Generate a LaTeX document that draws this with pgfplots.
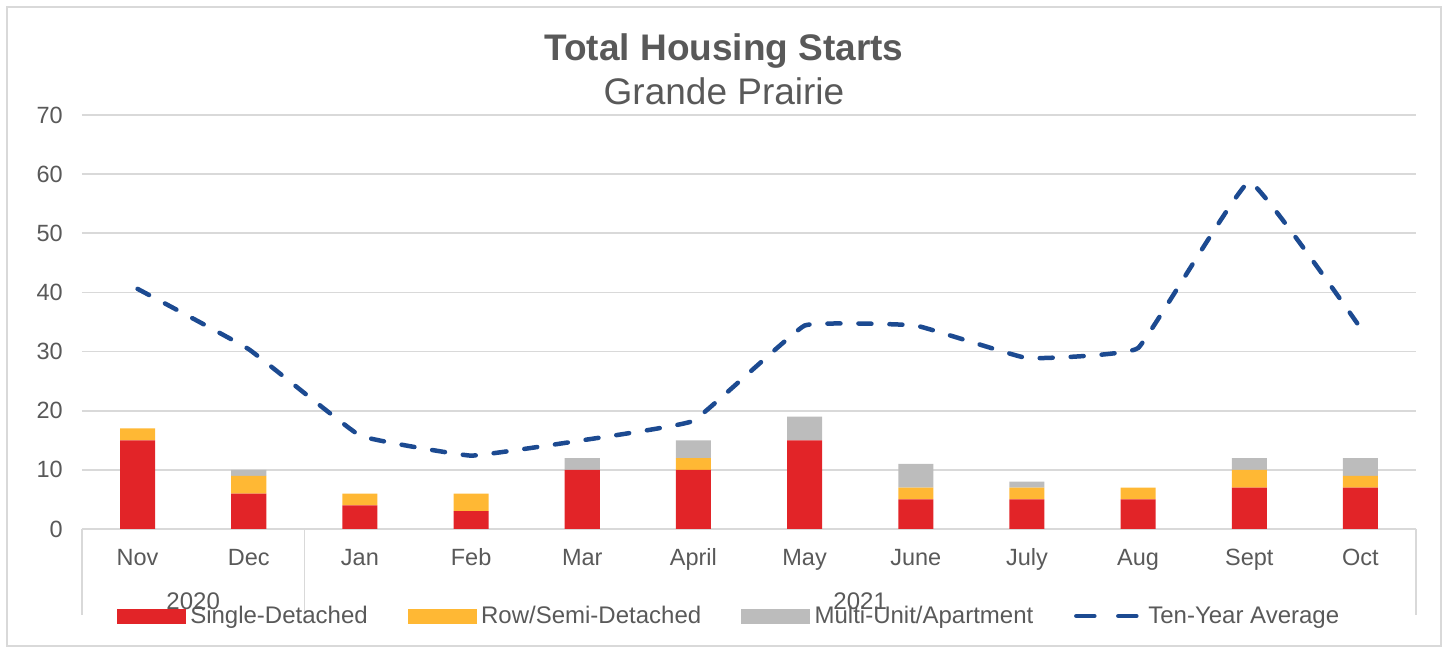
\documentclass[border=0pt]{standalone}
\usepackage{fontspec}
\setmainfont{Liberation Sans}
\usepackage{pgfplots}
\pgfplotsset{compat=1.18}
\definecolor{sd}{HTML}{E22428}
\definecolor{rs}{HTML}{FFB834}
\definecolor{mu}{HTML}{BCBCBC}
\definecolor{avg}{HTML}{1C4A91}
\definecolor{gridc}{HTML}{D9D9D9}
\definecolor{txt}{HTML}{595959}
\begin{document}
\begin{tikzpicture}
\pgfplotsset{
 base/.style={scale only axis, width=1334pt, height=414pt, xmin=-0.5, xmax=11.5, ymin=0, ymax=70, clip=false},
}
\begin{axis}[base, name=ax, ybar stacked, bar width=0.315,
 axis line style={draw=none}, ymajorgrids, grid style={gridc, line width=1.8pt},
 ytick={0,10,...,70}, xtick={0,...,11},
 xticklabels={Nov,Dec,Jan,Feb,Mar,April,May,June,July,Aug,Sept,Oct},
 major tick length=0pt,
 tick label style={font=\fontsize{23.5}{27}\selectfont, text=txt},
 /pgf/number format/assume math mode=true,
 yticklabel style={anchor=east, inner sep=0pt, xshift=-19pt},
 xticklabel style={anchor=base, inner sep=0pt, yshift=-37pt},
 legend columns=4,
 legend style={draw=none, fill=none, at={(0.026,-0.21)}, anchor=west, inner sep=0pt,
   font=\fontsize{24}{28}\selectfont, text=txt, nodes={inner sep=0pt},
   /tikz/every odd column/.append style={column sep=5pt},
   /tikz/every even column/.append style={column sep=40pt}},
]
\addplot[fill=sd, draw=none, forget plot] coordinates {(0,15) (1,6) (2,4) (3,3) (4,10) (5,10) (6,15) (7,5) (8,5) (9,5) (10,7) (11,7)};
\addplot[fill=rs, draw=none, forget plot] coordinates {(0,2) (1,3) (2,2) (3,3) (4,0) (5,2) (6,0) (7,2) (8,2) (9,2) (10,3) (11,2)};
\addplot[fill=mu, draw=none, forget plot] coordinates {(0,0) (1,1) (2,0) (3,0) (4,2) (5,3) (6,4) (7,4) (8,1) (9,0) (10,2) (11,3)};
\addlegendimage{legend image code/.code={\fill[sd] (0pt,-7pt) rectangle (68pt,7pt);}}
\addlegendentry{Single-Detached}
\addlegendimage{legend image code/.code={\fill[rs] (0pt,-7pt) rectangle (68pt,7pt);}}
\addlegendentry{Row/Semi-Detached}
\addlegendimage{legend image code/.code={\fill[mu] (0pt,-7pt) rectangle (68pt,7pt);}}
\addlegendentry{Multi-Unit/Apartment}
\addlegendimage{legend image code/.code={\draw[avg, line width=4.5pt, line cap=round] (3pt,0pt) -- (21pt,0pt) (45pt,0pt) -- (63pt,0pt); \path[draw=none] (0pt,0pt) -- (70pt,0pt);}}
\addlegendentry{Ten-Year Average}
\draw[gridc, line width=1.2pt] (axis cs:-0.5,0) -- ([yshift=-86pt]axis cs:-0.5,0);
\draw[gridc, line width=1.2pt] (axis cs:1.5,0) -- ([yshift=-86pt]axis cs:1.5,0);
\draw[gridc, line width=1.2pt] (axis cs:11.5,0) -- ([yshift=-86pt]axis cs:11.5,0);
\node[text=txt, font=\fontsize{24}{28}\selectfont, yshift=-72pt] at (axis cs:0.5,0) {2020};
\node[text=txt, font=\fontsize{24}{28}\selectfont, yshift=-72pt] at (axis cs:6.5,0) {2021};
\end{axis}
\begin{axis}[base, hide axis]
\addplot[avg, line width=4.5pt, dash pattern=on 13pt off 18pt, line cap=round, smooth, tension=0.15]
 coordinates {(0,40.6) (1,30.4) (2,15.8) (3,12.4) (4,15) (5,18.3) (6,34.4) (7,34.4) (8,28.9) (9,30.6) (10,58.7) (11,34)};
\end{axis}
\node[anchor=base, text=txt, font=\fontsize{37}{40}\selectfont\bfseries] at ([shift={(-25pt,54pt)}]ax.north) {Total Housing Starts};
\node[anchor=base, text=txt, font=\fontsize{37}{40}\selectfont] at ([shift={(-25pt,10pt)}]ax.north) {Grande Prairie};
\draw[gridc, line width=1.5pt] ([shift={(-75pt,-117pt)}]ax.south west) rectangle ([shift={(25pt,108pt)}]ax.north east);
\path ([shift={(-82pt,-121pt)}]ax.south west) rectangle ([shift={(33pt,115pt)}]ax.north east);
\end{tikzpicture}
\end{document}
